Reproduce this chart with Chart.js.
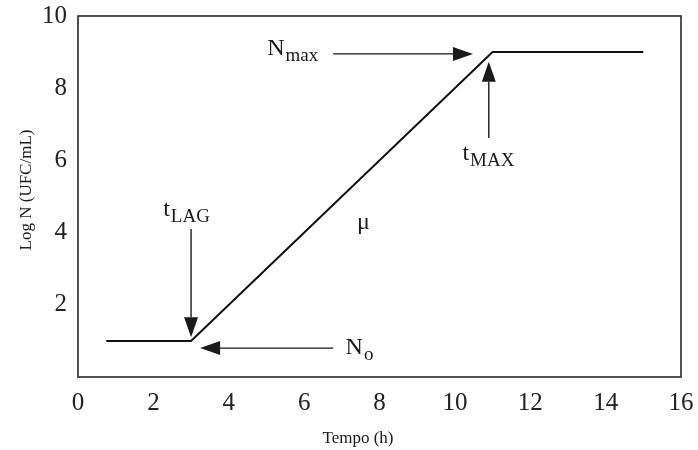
<!DOCTYPE html>
<html>
<head>
<meta charset="utf-8">
<script src="https://cdn.jsdelivr.net/npm/chart.js@4.4.1/dist/chart.umd.min.js"></script>
<style>
  html, body { margin: 0; padding: 0; background: #fff; }
  #wrap { width: 698px; height: 450px; }
</style>
</head>
<body>
<div id="wrap"><canvas id="growthChart" width="698" height="450"></canvas></div>
<script>
// growth curve: lag phase, exponential phase, stationary phase
const tempo = [0.75, 3, 11, 15];
const logN = [1, 1, 9, 9];
const xTicks = [0, 2, 4, 6, 8, 10, 12, 14, 16];
const yTicks = [0, 2, 4, 6, 8, 10];

// arrows [x1, y1, x2, y2] in data units, head at the second point
const arrows = [
    [3, 4.1, 3, 1.1],       // t LAG
    [6.77, 0.8, 3.24, 0.8], // N o
    [6.77, 8.95, 10.48, 8.95], // N max
    [10.9, 6.62, 10.9, 8.73]   // t MAX
];

// labels: main text, subscript, x, y (baseline)
const labels = [
    ['t', 'LAG', 2.26, 4.46],
    ['N', 'o', 7.1, 0.64],
    ['N', 'max', 5.02, 8.92],
    ['t', 'MAX', 10.2, 6.0],
    ['\u03bc', '', 7.4, 4.1]
];

const serif = '"Liberation Serif", "DejaVu Serif", serif';
const ink = '#1a1a1a';

const annotate = {
    id: 'annotate',
    afterDatasetsDraw(chart) {
        const c = chart.ctx;
        const xs = chart.scales.x, ys = chart.scales.y;
        const a = chart.chartArea;

        // frame around the plot
        c.save();
        c.strokeStyle = '#333';
        c.lineWidth = 1.7;
        c.strokeRect(a.left, a.top, a.right - a.left, a.bottom - a.top);

        c.strokeStyle = ink;
        c.fillStyle = ink;
        c.lineWidth = 1.4;
        arrows.forEach(([x1, y1, x2, y2]) => {
            const px1 = xs.getPixelForValue(x1), py1 = ys.getPixelForValue(y1);
            const px2 = xs.getPixelForValue(x2), py2 = ys.getPixelForValue(y2);
            const ang = Math.atan2(py2 - py1, px2 - px1);
            const len = 20, half = 7;
            const bx = px2 - len * Math.cos(ang), by = py2 - len * Math.sin(ang);
            c.beginPath();
            c.moveTo(px1, py1);
            c.lineTo(bx, by);
            c.stroke();
            c.beginPath();
            c.moveTo(px2, py2);
            c.lineTo(bx + half * Math.sin(ang), by - half * Math.cos(ang));
            c.lineTo(bx - half * Math.sin(ang), by + half * Math.cos(ang));
            c.closePath();
            c.fill();
        });

        c.textBaseline = 'alphabetic';
        c.textAlign = 'left';
        labels.forEach(([main, sub, x, y]) => {
            const px = xs.getPixelForValue(x), py = ys.getPixelForValue(y);
            c.font = '24px ' + serif;
            c.fillText(main, px, py);
            if (sub) {
                const w = c.measureText(main).width;
                c.font = '19px ' + serif;
                c.fillText(sub, px + w + 1, py + 6);
            }
        });

        // axis titles
        c.font = '17px ' + serif;
        c.textAlign = 'center';
        c.textBaseline = 'middle';
        c.fillText('Tempo (h)', 358, 439);
        c.translate(27, 190);
        c.rotate(-Math.PI / 2);
        c.fillText('Log N (UFC/mL)', 0, 0);
        c.restore();
    }
};

// tick labels may overhang the plot edges without shrinking it
function noOverhang(s) {
    s.paddingTop = 0;
    s.paddingBottom = 0;
    s.paddingLeft = 0;
    s.paddingRight = 0;
}

new Chart(document.getElementById('growthChart'), {
    type: 'line',
    data: {
        datasets: [{
            data: tempo.map((t, i) => ({ x: t, y: logN[i] })),
            borderColor: '#111',
            borderWidth: 2,
            pointRadius: 0,
            tension: 0,
            fill: false
        }]
    },
    options: {
        responsive: false,
        animation: false,
        layout: { padding: { top: 16, right: 17, left: 0, bottom: 0 } },
        plugins: { legend: { display: false }, tooltip: { enabled: false } },
        scales: {
            x: {
                type: 'linear',
                min: 0,
                max: 16,
                afterBuildTicks: s => { s.ticks = xTicks.map(v => ({ value: v })); },
                afterFit: s => { s.height = 73; noOverhang(s); },
                grid: { display: false, drawTicks: false },
                border: { display: false },
                ticks: { color: '#222', padding: 11, font: { family: serif, size: 25 } }
            },
            y: {
                min: 0,
                max: 10,
                afterBuildTicks: s => { s.ticks = yTicks.map(v => ({ value: v })); },
                afterFit: s => { s.width = 78; noOverhang(s); },
                grid: { display: false, drawTicks: false },
                border: { display: false },
                ticks: {
                    color: '#222',
                    padding: 11,
                    font: { family: serif, size: 25 },
                    callback: v => v === 0 ? '' : v
                }
            }
        }
    },
    plugins: [annotate]
});
</script>
</body>
</html>
